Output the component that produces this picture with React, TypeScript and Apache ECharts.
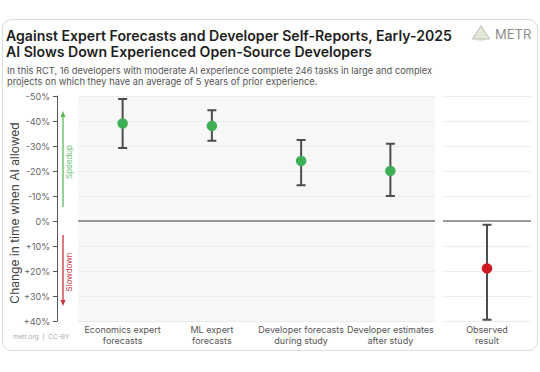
import React, { useEffect, useRef } from "react";
import * as echarts from "echarts";

const forecastCategories = [
  "Economics expert\nforecasts",
  "ML expert\nforecasts",
  "Developer forecasts\nduring study",
  "Developer estimates\nafter study",
];
const forecastValues = [-39, -38, -24, -20];
const forecastLow = [-48.8, -44.3, -32.4, -30.9];
const forecastHigh = [-29.2, -32.1, -14.3, -10];

const observedCategories = ["Observed\nresult"];
const observedValues = [19];
const observedLow = [1.5];
const observedHigh = [39.5];

const yMin = -50;
const yMax = 40;
const yStep = 10;

const FONT = "Inter, 'Open Sans', sans-serif";

function errRender(params: any, api: any) {
  const x = api.value(0);
  const lo = api.coord([x, api.value(1)]);
  const hi = api.coord([x, api.value(2)]);
  const half = 4.5;
  const style = { stroke: "#4d4d4d", lineWidth: 2 };
  return {
    type: "group",
    children: [
      { type: "line", shape: { x1: lo[0], y1: lo[1], x2: hi[0], y2: hi[1] }, style },
      { type: "line", shape: { x1: lo[0] - half, y1: lo[1], x2: lo[0] + half, y2: lo[1] }, style },
      { type: "line", shape: { x1: hi[0] - half, y1: hi[1], x2: hi[0] + half, y2: hi[1] }, style },
    ],
  };
}

function pctLabel(v: number) {
  if (v === 0) return "0%";
  return (v > 0 ? "+" : "") + v + "%";
}

export default function App() {
  const ref = useRef<HTMLDivElement>(null);
  useEffect(() => {
    if (!ref.current) return;
    const chart = echarts.init(ref.current, null, { renderer: "svg" });
    const yBase = {
      type: "value",
      min: yMin,
      max: yMax,
      interval: yStep,
      inverse: true,
    };
    const xLabel = {
      fontSize: 9,
      color: "#555",
      lineHeight: 11,
      margin: 3,
      interval: 0,
      fontFamily: FONT,
    };
    const zeroLine = {
      silent: true,
      symbol: "none",
      label: { show: false },
      lineStyle: { color: "#7a7a7a", width: 1.5, type: "solid" },
      data: [{ yAxis: 0 }],
    };
    chart.setOption({
      animation: false,
      backgroundColor: "transparent",
      grid: [
        { left: 78, right: 105, top: 96, bottom: 51, show: true, backgroundColor: "#f7f7f7", borderWidth: 0 },
        { left: 443, right: 9, top: 96, bottom: 51, show: false },
      ],
      xAxis: [
        {
          type: "category",
          gridIndex: 0,
          data: forecastCategories,
          axisLine: { show: false },
          axisTick: { show: false },
          axisLabel: xLabel,
        },
        {
          type: "category",
          gridIndex: 1,
          data: observedCategories,
          axisLine: { show: false },
          axisTick: { show: false },
          axisLabel: xLabel,
        },
      ],
      yAxis: [
        {
          ...yBase,
          gridIndex: 0,
          offset: 21,
          axisLine: { show: true, lineStyle: { color: "#555", width: 1 } },
          axisTick: { show: true, length: 4, lineStyle: { color: "#555" } },
          axisLabel: {
            fontSize: 9,
            color: "#666",
            margin: 7,
            fontFamily: FONT,
            formatter: pctLabel,
          },
          splitLine: { show: true, lineStyle: { color: "#ebebeb", width: 1 } },
        },
        {
          ...yBase,
          gridIndex: 1,
          axisLine: { show: false },
          axisTick: { show: false },
          axisLabel: { show: false },
          splitLine: { show: true, lineStyle: { color: "#eeeeee", width: 1 } },
        },
      ],
      series: [
        {
          type: "custom",
          xAxisIndex: 0,
          yAxisIndex: 0,
          renderItem: errRender,
          encode: { x: 0, y: [1, 2] },
          data: forecastCategories.map((_, i) => [i, forecastLow[i], forecastHigh[i]]),
          z: 3,
        },
        {
          type: "scatter",
          xAxisIndex: 0,
          yAxisIndex: 0,
          data: forecastValues.map((v, i) => [i, v]),
          symbolSize: 10.5,
          itemStyle: { color: "#3daf57", opacity: 1 },
          markLine: zeroLine,
          z: 4,
        },
        {
          type: "custom",
          xAxisIndex: 1,
          yAxisIndex: 1,
          renderItem: errRender,
          encode: { x: 0, y: [1, 2] },
          data: observedCategories.map((_, i) => [i, observedLow[i], observedHigh[i]]),
          z: 3,
        },
        {
          type: "scatter",
          xAxisIndex: 1,
          yAxisIndex: 1,
          data: observedValues.map((v, i) => [i, v]),
          symbolSize: 10.5,
          itemStyle: { color: "#d11a1f", opacity: 1 },
          markLine: zeroLine,
          z: 4,
        },
      ],
      graphic: [
        {
          type: "rect",
          z: -10,
          shape: { x: 2.5, y: 19.5, width: 535, height: 331, r: 9 },
          style: { fill: "#ffffff", stroke: "#dcdcdc", lineWidth: 1 },
        },
        {
          type: "text",
          x: 6,
          y: 35.5,
          style: {
            text: "Against Expert Forecasts and Developer Self-Reports, Early-2025",
            font: "600 14.1px " + FONT,
            fill: "#1e1e1e",
            verticalAlign: "middle",
          },
        },
        {
          type: "text",
          x: 6,
          y: 51,
          style: {
            text: "AI Slows Down Experienced Open-Source Developers",
            font: "600 14.1px " + FONT,
            fill: "#1e1e1e",
            verticalAlign: "middle",
          },
        },
        {
          type: "text",
          x: 7,
          y: 70,
          style: {
            text: "In this RCT, 16 developers with moderate AI experience complete 246 tasks in large and complex",
            font: "400 9.3px " + FONT,
            fill: "#555",
            verticalAlign: "middle",
          },
        },
        {
          type: "text",
          x: 7,
          y: 81,
          style: {
            text: "projects on which they have an average of 5 years of prior experience.",
            font: "400 9.3px " + FONT,
            fill: "#555",
            verticalAlign: "middle",
          },
        },
        {
          type: "sector",
          shape: { cx: 481, cy: 26, r: 15, r0: 0, startAngle: Math.PI / 3, endAngle: (2 * Math.PI) / 3 },
          style: { fill: "#e2e9d6" },
        },
        {
          type: "polygon",
          shape: { points: [[481, 26], [472.5, 39], [489.5, 39]] },
          style: { fill: "none", stroke: "#c4c4c4", lineWidth: 1.2 },
        },
        {
          type: "text",
          x: 495,
          y: 34,
          style: {
            text: "METR",
            font: "400 13px " + FONT,
            fill: "#8c8c8c",
            verticalAlign: "middle",
          },
        },
        {
          type: "text",
          x: 14,
          y: 213,
          rotation: Math.PI / 2,
          style: {
            text: "Change in time when AI allowed",
            font: "400 12px " + FONT,
            fill: "#444",
            align: "center",
            verticalAlign: "middle",
          },
        },
        {
          type: "line",
          shape: { x1: 63, y1: 116, x2: 63, y2: 207 },
          style: { stroke: "#5cb85c", lineWidth: 1.3 },
        },
        {
          type: "polygon",
          shape: { points: [[63, 111], [60.5, 117], [65.5, 117]] },
          style: { fill: "#5cb85c" },
        },
        {
          type: "text",
          x: 69,
          y: 162,
          rotation: Math.PI / 2,
          style: {
            text: "Speedup",
            font: "400 8px " + FONT,
            fill: "#6cc070",
            align: "center",
            verticalAlign: "middle",
          },
        },
        {
          type: "line",
          shape: { x1: 63, y1: 235, x2: 63, y2: 301 },
          style: { stroke: "#c9303a", lineWidth: 1.3 },
        },
        {
          type: "polygon",
          shape: { points: [[63, 306], [60.5, 300], [65.5, 300]] },
          style: { fill: "#c9303a" },
        },
        {
          type: "text",
          x: 69,
          y: 272,
          rotation: Math.PI / 2,
          style: {
            text: "Slowdown",
            font: "400 8px " + FONT,
            fill: "#c9404a",
            align: "center",
            verticalAlign: "middle",
          },
        },
        {
          type: "text",
          x: 13,
          y: 337,
          style: {
            text: "metr.org  |  CC-BY",
            font: "400 6.5px " + FONT,
            fill: "#aaaaaa",
            verticalAlign: "middle",
          },
        },
      ],
    });
    return () => chart.dispose();
  }, []);
  return (
    <div
      ref={ref}
      style={{ position: "fixed", left: 0, top: 0, width: 540, height: 372, background: "#fff" }}
    />
  );
}
